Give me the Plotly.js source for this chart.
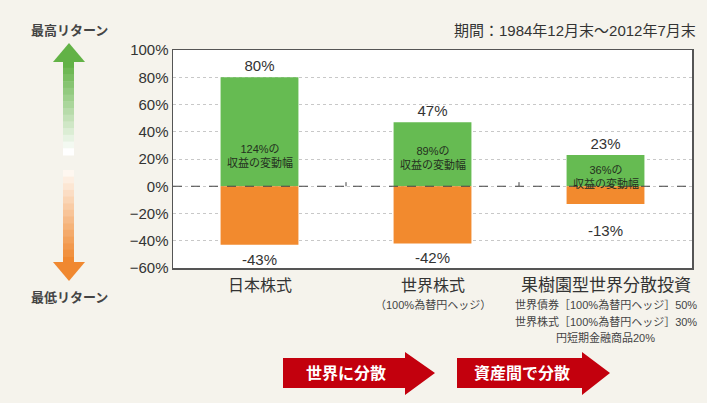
<!DOCTYPE html>
<html>
<head>
<meta charset="utf-8">
<script src="https://cdn.plot.ly/plotly-3.0.1.min.js"></script>
<style>
  html, body { margin: 0; padding: 0; background: #f5f3ec; }
  #myDiv { width: 707px; height: 403px; }
</style>
</head>
<body>
<div id="myDiv"></div>
<script>
// categories (x axis)
const categories = ["日本株式", "世界株式", "果樹園型世界分散投資"];
// best and worst 1-year return, %
const bestReturn = [80, 47, 23];
const worstReturn = [-43, -42, -13];
// width of the return range, %
const rangeWidth = [124, 89, 36];
// small notes under the category names
const subLabels = [
  [],
  ["（100%為替円ヘッジ）"],
  ["世界債券［100%為替円ヘッジ］50%", "世界株式［100%為替円ヘッジ］30%", "円短期金融商品20%"],
];
const periodText = "期間：1984年12月末～2012年7月末";
const arrowTexts = ["世界に分散", "資産間で分散"];

const FONT = "Liberation Sans, Noto Sans CJK JP, sans-serif";

// plot area in pixels, used to place the decorations
const L = 173, R = 15, T = 50, B = 135, W = 707, H = 403;
const pw = W - L - R, ph = H - T - B;
function px(x) { return (x - L) / pw; }
function py(y) { return (H - B - y) / ph; }

let shapes = [];
let annotations = [];

// zero line (dashed) and little ticks between categories
shapes.push({
  type: "line", xref: "paper", yref: "y", x0: 0, x1: 1, y0: 0, y1: 0,
  line: { color: "#444", width: 1.2, dash: "dash" },
});
for (let i = 0; i < categories.length - 1; i++) {
  shapes.push({
    type: "line", xref: "x", yref: "y", x0: i + 0.5, x1: i + 0.5, y0: 0, y1: 3,
    line: { color: "#444", width: 1 },
  });
}

// left gradient arrows (green up, orange down)
function mix(a, b, t) {
  return "rgb(" + a.map((v, k) => Math.round(v + (b[k] - v) * t)).join(",") + ")";
}
const green = [98, 178, 70], orange = [240, 136, 48], white = [255, 255, 255];
const steps = 14;
for (let i = 0; i < steps; i++) {
  // green shaft 61 -> 155
  let y0 = 61 + (94 / steps) * i, y1 = 61 + (94 / steps) * (i + 1) + 0.5;
  shapes.push({
    type: "rect", xref: "paper", yref: "paper", x0: px(63), x1: px(74), y0: py(y0), y1: py(y1),
    fillcolor: mix(green, white, i / (steps - 1)), line: { width: 0 }, layer: "above",
  });
  // orange shaft 170 -> 263
  let z0 = 170 + (93 / steps) * i, z1 = 170 + (93 / steps) * (i + 1) + 0.5;
  shapes.push({
    type: "rect", xref: "paper", yref: "paper", x0: px(63), x1: px(74), y0: py(z0), y1: py(z1),
    fillcolor: mix(white, orange, (i + 1) / steps), line: { width: 0 }, layer: "above",
  });
}
function tri(points, color) {
  let d = "M " + points.map((p) => px(p[0]) + "," + py(p[1])).join(" L ") + " Z";
  shapes.push({ type: "path", xref: "paper", yref: "paper", path: d, fillcolor: color, line: { width: 0 } });
}
tri([[53, 62], [69, 43], [85, 62]], mix(green, white, 0));
tri([[53, 262], [69, 281], [85, 262]], mix(orange, orange, 0));

// red arrows at the bottom
const redArrows = [[283, 405, 435], [457, 582, 610]];
redArrows.forEach((a, i) => {
  tri([[a[0], 358], [a[1], 358], [a[1], 352], [a[2], 373], [a[1], 395], [a[1], 388], [a[0], 388]], "#c3000d");
  annotations.push({
    xref: "paper", yref: "paper", x: px((a[0] + a[1]) / 2 + 2), y: py(373),
    xanchor: "center", yanchor: "middle",
    text: "<b>" + arrowTexts[i] + "</b>", showarrow: false,
    font: { family: FONT, size: 16, color: "#fff" },
  });
});

// texts around the chart
annotations.push({
  xref: "paper", yref: "paper", x: px(698), y: py(31), xanchor: "right", yanchor: "middle",
  text: periodText, showarrow: false, font: { family: FONT, size: 15, color: "#333" },
});
annotations.push({
  xref: "paper", yref: "paper", x: px(69), y: py(30), xanchor: "center", yanchor: "middle",
  text: "<b>最高リターン</b>", showarrow: false, font: { family: FONT, size: 13, color: "#444" },
});
annotations.push({
  xref: "paper", yref: "paper", x: px(69), y: py(297), xanchor: "center", yanchor: "middle",
  text: "<b>最低リターン</b>", showarrow: false, font: { family: FONT, size: 13, color: "#444" },
});

// range label inside each bar, worst-return label under each bar
const spanY = [22, 21, 7];
const worstShift = [-4, -4, -16];
categories.forEach((c, i) => {
  annotations.push({
    xref: "x", yref: "y", x: i, y: spanY[i], yanchor: "middle",
    text: rangeWidth[i] + "%の<br>収益の変動幅", showarrow: false,
    font: { family: FONT, size: 11, color: "#243020" },
  });
  annotations.push({
    xref: "x", yref: "y", x: i, y: worstReturn[i], yanchor: "top", yshift: worstShift[i],
    text: worstReturn[i] + "%", showarrow: false,
    font: { family: FONT, size: 15, color: "#333" },
  });
  // category name under the plot
  annotations.push({
    xref: "x", yref: "paper", x: i, y: py(285), yanchor: "middle",
    text: c, showarrow: false,
    font: { family: FONT, size: i == 2 ? 17 : 16, color: "#333" },
  });
  subLabels[i].forEach((s, k) => {
    annotations.push({
      xref: "x", yref: "paper", x: i, y: py(304 + k * 17), yanchor: "middle",
      text: s, showarrow: false,
      font: { family: FONT, size: 11, color: "#444" },
    });
  });
});

const data = [
  {
    type: "bar", x: [0, 1, 2], y: bestReturn, width: 0.45,
    marker: { color: "#66bb52" },
    text: bestReturn.map((v) => v + "%"), textposition: "outside",
    outsidetextfont: { family: FONT, size: 15, color: "#333" },
    cliponaxis: false, hoverinfo: "none",
  },
  {
    type: "bar", x: [0, 1, 2], y: worstReturn, width: 0.45,
    marker: { color: "#f28a2e" },
    hoverinfo: "none",
  },
];

const layout = {
  width: W, height: H,
  margin: { l: L, r: R, t: T, b: B },
  paper_bgcolor: "#f5f3ec",
  plot_bgcolor: "#ffffff",
  barmode: "overlay",
  showlegend: false,
  font: { family: FONT, color: "#333" },
  xaxis: {
    range: [-0.5, 2.5], showticklabels: false, showgrid: false, zeroline: false,
    showline: true, mirror: true, linecolor: "#555", linewidth: 1.5, ticks: "",
  },
  yaxis: {
    range: [-60, 100], dtick: 20, ticksuffix: "%",
    showgrid: true, gridcolor: "#c8c8c8", griddash: "dot", gridwidth: 1,
    zeroline: false, showline: true, mirror: true, linecolor: "#555", linewidth: 1.5,
    tickfont: { family: FONT, size: 15, color: "#333" },
    ticklen: 0, ticks: "",
  },
  shapes: shapes,
  annotations: annotations,
};

Plotly.newPlot("myDiv", data, layout, { staticPlot: true });
</script>
</body>
</html>
